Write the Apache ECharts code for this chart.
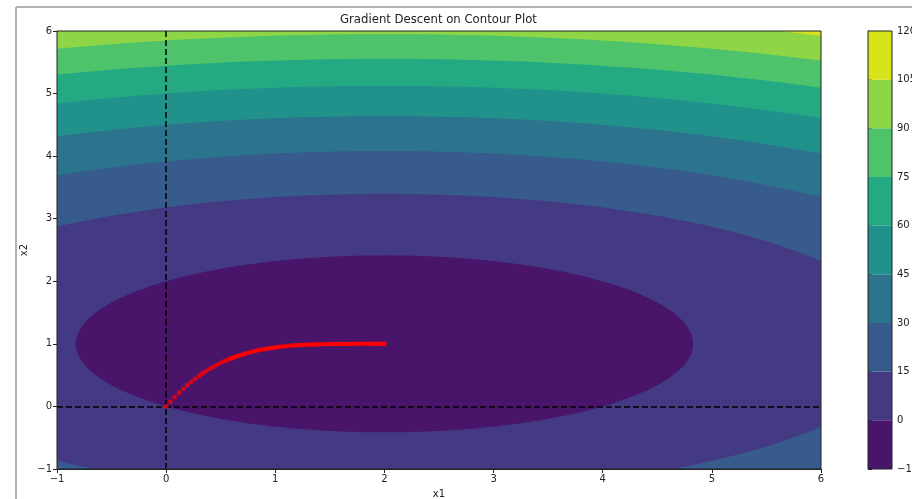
<!DOCTYPE html>
<html>
<head>
<meta charset="utf-8">
<script src="https://cdn.jsdelivr.net/npm/echarts@6/dist/echarts.min.js"></script>
<style>
html,body{margin:0;padding:0;background:#fff;}
#chart{width:912px;height:499px;}
</style>
</head>
<body>
<div id="chart"></div>
<script>
// ---- data ----
const contourLevels = [-15, 0, 15, 30, 45, 60, 75, 90, 105, 120];
const bandColors = ['#48156a', '#443a83', '#375b8d', '#2c738e', '#21918c', '#24aa83', '#4ec36b', '#8ed645', '#d8e219'];
// quadratic surface: f = a*(x1-cx)^2 + b*(x2-cy)^2 + offset
const surfaceCenter = [2, 1];
const surfaceCoef = [1, 4];
const surfaceOffset = -8;
// gradient-descent path points (x1, x2)
const pathX1 = [0, 0.039, 0.079, 0.119, 0.157, 0.193, 0.229, 0.265, 0.300, 0.333, 0.366, 0.399, 0.431, 0.463, 0.494, 0.523, 0.553, 0.582, 0.610, 0.638, 0.665,
  0.72, 0.79, 0.85, 0.91, 0.97, 1.01, 1.11, 1.19, 1.27, 1.34, 1.40, 1.51, 1.60, 1.74, 1.86, 1.92, 1.965, 1.99, 2.0];
const pathX2 = [0, 0.078, 0.150, 0.219, 0.282, 0.340, 0.392, 0.441, 0.486, 0.526, 0.564, 0.599, 0.631, 0.661, 0.689, 0.714, 0.737, 0.758, 0.777, 0.795, 0.811,
  0.840, 0.876, 0.900, 0.918, 0.934, 0.946, 0.964, 0.976, 0.985, 0.990, 0.993, 0.997, 0.999, 1.0, 1.0, 1.0, 1.0, 1.0, 1.0];
const denseStart = 17;
const refLinesX = [0];
const refLinesY = [0];
const xRange = [-1, 6];
const yRange = [-1, 6];

// ---- build ----
const fmt = v => String(v).replace('-', '\u2212');
const contourData = [];
for (let i = bandColors.length - 1; i >= 0; i--) contourData.push([contourLevels[i + 1], i]);
const pathData = pathX1.map((x, i) => [x, pathX2[i]]);
const denseData = pathData.slice(denseStart);
const cbarData = bandColors.map((c, i) => [contourLevels[i], contourLevels[i + 1], i]);

const axisFont = { fontFamily: 'DejaVu Sans', fontSize: 10, color: '#222' };

const chart = echarts.init(document.getElementById('chart'), null, { renderer: 'canvas' });
chart.setOption({
  animation: false,
  backgroundColor: '#fff',
  title: {
    text: 'Gradient Descent on Contour Plot', left: 340, top: 14, padding: 0,
    textStyle: { fontFamily: 'DejaVu Sans', fontSize: 11.7, fontWeight: 'normal', color: '#222' }
  },
  graphic: [
    { type: 'line', shape: { x1: 16, y1: 7, x2: 912, y2: 7 }, style: { stroke: '#999', lineWidth: 1.5 } },
    { type: 'line', shape: { x1: 16, y1: 7, x2: 16, y2: 499 }, style: { stroke: '#999', lineWidth: 1.5 } }
  ],
  grid: [
    { left: 57, top: 31, width: 764, height: 438, outerBoundsMode: 'none', containLabel: false, show: true, borderColor: '#222', borderWidth: 1, backgroundColor: 'transparent', z: 10 },
    { left: 868, top: 31, width: 24, height: 438, outerBoundsMode: 'none', containLabel: false, show: true, borderColor: '#222', borderWidth: 1, backgroundColor: 'transparent', z: 10 }
  ],
  xAxis: [
    { type: 'value', gridIndex: 0, min: xRange[0], max: xRange[1], interval: 1,
      name: 'x1', nameLocation: 'middle', nameGap: 20, nameMoveOverlap: false, nameTextStyle: axisFont,
      axisLine: { show: true, onZero: false, lineStyle: { color: '#222' } },
      axisTick: { show: true, length: 4, lineStyle: { color: '#222' } },
      axisLabel: Object.assign({ formatter: fmt, margin: 5 }, axisFont),
      splitLine: { show: false } },
    { type: 'value', gridIndex: 1, min: 0, max: 1, show: false }
  ],
  yAxis: [
    { type: 'value', gridIndex: 0, min: yRange[0], max: yRange[1], interval: 1,
      name: 'x2', nameLocation: 'middle', nameGap: 28, nameMoveOverlap: false, nameTextStyle: axisFont,
      axisLine: { show: true, onZero: false, lineStyle: { color: '#222' } },
      axisTick: { show: true, length: 4, lineStyle: { color: '#222' } },
      axisLabel: Object.assign({ formatter: fmt, margin: 5 }, axisFont),
      splitLine: { show: false } },
    { type: 'value', gridIndex: 1, min: contourLevels[0], max: contourLevels[contourLevels.length - 1], interval: 15, position: 'right',
      axisLine: { show: true, lineStyle: { color: '#222' } },
      axisTick: { show: true, length: 4, lineStyle: { color: '#222' } },
      axisLabel: Object.assign({ formatter: fmt, margin: 5 }, axisFont),
      splitLine: { show: false } }
  ],
  series: [
    {
      type: 'custom', xAxisIndex: 0, yAxisIndex: 0, clip: true, silent: true, z: 1,
      data: contourData,
      renderItem: function (params, api) {
        const L = api.value(0), k = api.value(1);
        const r2 = L - surfaceOffset;
        const rx = Math.sqrt(r2 / surfaceCoef[0]), ry = Math.sqrt(r2 / surfaceCoef[1]);
        const pts = [];
        const N = 360;
        for (let j = 0; j < N; j++) {
          const t = j / N * Math.PI * 2;
          pts.push(api.coord([surfaceCenter[0] + rx * Math.cos(t), surfaceCenter[1] + ry * Math.sin(t)]));
        }
        const cs = params.coordSys;
        return {
          type: 'polygon', shape: { points: pts }, style: { fill: bandColors[k] },
          clipPath: { type: 'rect', shape: { x: cs.x, y: cs.y, width: cs.width, height: cs.height } }
        };
      }
    },
    {
      type: 'line', xAxisIndex: 0, yAxisIndex: 0, data: [], z: 3,
      markLine: {
        silent: true, symbol: ['none', 'none'], label: { show: false },
        lineStyle: { color: '#000', width: 1.5, type: [6, 3] },
        data: refLinesX.map(v => ({ xAxis: v })).concat(refLinesY.map(v => ({ yAxis: v })))
      }
    },
    {
      type: 'line', xAxisIndex: 0, yAxisIndex: 0, data: denseData, showSymbol: false, smooth: 0.3, z: 4,
      lineStyle: { color: '#ff0000', width: 4 }, itemStyle: { color: '#ff0000' }
    },
    {
      type: 'scatter', xAxisIndex: 0, yAxisIndex: 0, data: pathData, symbol: 'circle', symbolSize: 4.8, z: 5,
      itemStyle: { color: '#ff0000' }
    },
    {
      type: 'custom', xAxisIndex: 1, yAxisIndex: 1, silent: true, z: 1,
      data: cbarData,
      renderItem: function (params, api) {
        const p0 = api.coord([0, api.value(0)]);
        const p1 = api.coord([1, api.value(1)]);
        return { type: 'rect', shape: { x: p0[0], y: p1[1], width: p1[0] - p0[0], height: p0[1] - p1[1] },
          style: { fill: bandColors[api.value(2)] } };
      }
    }
  ]
});
</script>
</body>
</html>
